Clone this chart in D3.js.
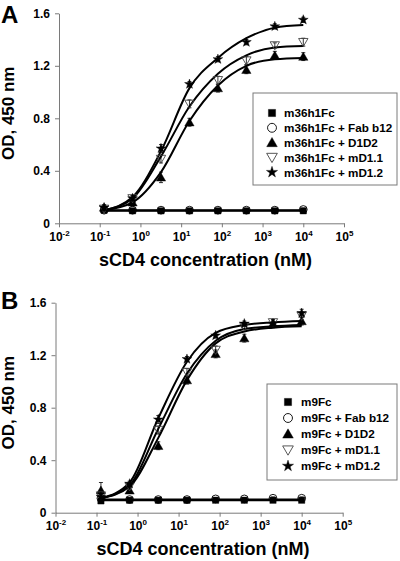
<!DOCTYPE html>
<html><head><meta charset="utf-8">
<script src="https://cdn.jsdelivr.net/npm/d3@7"></script>
<style>body{margin:0;background:#fff}svg{display:block}text{font-family:Arial,"Liberation Sans",sans-serif;font-weight:bold}</style>
</head><body>
<svg id="c" width="400" height="561"></svg>
<script>
// ---- data ----
const conc = [0.128, 0.64, 3.2, 16, 80, 400, 2000, 10000];
const yTicks = [0, 0.4, 0.8, 1.2, 1.6];
const xTickExps = [-2, -1, 0, 1, 2, 3, 4, 5];
const symbolsOrder = ["square", "circle", "triangle", "triangleDown", "star"];

const labelsA = ["m36h1Fc", "m36h1Fc + Fab b12", "m36h1Fc + D1D2", "m36h1Fc + mD1.1", "m36h1Fc + mD1.2"];
const pointsA_m36h1Fc = [0.10, 0.095, 0.095, 0.095, 0.095, 0.095, 0.095, 0.095];
const pointsA_Fab = [0.10, 0.10, 0.10, 0.10, 0.10, 0.10, 0.10, 0.105];
const pointsA_D1D2 = [0.12, 0.16, 0.35, 0.77, 1.03, 1.17, 1.28, 1.27];
const pointsA_mD11 = [0.11, 0.19, 0.49, 0.91, 1.09, 1.24, 1.355, 1.38];
const pointsA_mD12 = [0.12, 0.19, 0.57, 1.06, 1.25, 1.38, 1.50, 1.55];
const fitA_m36h1Fc = [0.095, 0.095, 0.095, 0.095, 0.095, 0.095, 0.095, 0.095];
const fitA_Fab = [0.10, 0.10, 0.10, 0.10, 0.10, 0.10, 0.10, 0.10];
const fitA_D1D2 = [0.10, 0.16, 0.39, 0.78, 1.05, 1.20, 1.25, 1.26];
const fitA_mD11 = [0.10, 0.19, 0.51, 0.89, 1.14, 1.28, 1.34, 1.35];
const fitA_mD12 = [0.10, 0.20, 0.55, 1.03, 1.26, 1.41, 1.49, 1.51];
const errA_D1D2 = [0.02, 0.03, 0.04, 0.03, 0.03, 0.03, 0.03, 0.03];
const errA_mD11 = [0.02, 0.02, 0.03, 0.03, 0.03, 0.03, 0.02, 0.03];
const errA_mD12 = [0.02, 0.02, 0.03, 0.02, 0.02, 0.02, 0.02, 0.02];
const errA_flat = [0.01, 0.01, 0.01, 0.01, 0.01, 0.01, 0.01, 0.01];

const labelsB = ["m9Fc", "m9Fc + Fab b12", "m9Fc + D1D2", "m9Fc + mD1.1", "m9Fc + mD1.2"];
const pointsB_m9Fc = [0.09, 0.095, 0.095, 0.095, 0.095, 0.095, 0.095, 0.095];
const pointsB_Fab = [0.11, 0.10, 0.10, 0.10, 0.105, 0.105, 0.11, 0.11];
const pointsB_D1D2 = [0.17, 0.17, 0.51, 1.01, 1.21, 1.33, 1.44, 1.46];
const pointsB_mD11 = [0.13, 0.20, 0.63, 1.07, 1.24, 1.42, 1.45, 1.50];
const pointsB_mD12 = [0.12, 0.22, 0.71, 1.17, 1.35, 1.44, 1.44, 1.52];
const fitB_m9Fc = [0.095, 0.095, 0.095, 0.095, 0.095, 0.095, 0.095, 0.095];
const fitB_Fab = [0.10, 0.10, 0.10, 0.10, 0.10, 0.10, 0.10, 0.10];
const fitB_D1D2 = [0.11, 0.20, 0.57, 1.01, 1.29, 1.38, 1.41, 1.42];
const fitB_mD11 = [0.11, 0.21, 0.64, 1.06, 1.31, 1.40, 1.42, 1.43];
const fitB_mD12 = [0.11, 0.23, 0.72, 1.15, 1.37, 1.43, 1.45, 1.46];
const errB_D1D2 = [0.06, 0.02, 0.03, 0.03, 0.03, 0.03, 0.03, 0.03];
const errB_mD11 = [0.03, 0.03, 0.03, 0.03, 0.03, 0.02, 0.02, 0.03];
const errB_mD12 = [0.02, 0.02, 0.03, 0.02, 0.02, 0.02, 0.02, 0.03];
const errB_flat = [0.01, 0.01, 0.01, 0.01, 0.01, 0.01, 0.01, 0.01];

const svg = d3.select("#c");
const AXIS = "#7a7a7a";
const FONT = "Arial, Liberation Sans, sans-serif";

function symPath(kind, size) {
  const t = {square: d3.symbolSquare, circle: d3.symbolCircle, triangle: d3.symbolTriangle,
             triangleDown: d3.symbolTriangle, star: d3.symbolStar}[kind];
  return d3.symbol().type(t).size(size)();
}
const sizes = {square: 40, circle: 48, triangle: 38, triangleDown: 38, star: 30};
const filled = {square: true, circle: false, triangle: true, triangleDown: false, star: true};

function drawSymbol(g, kind, x, y, sc) {
  const s = sizes[kind] * (sc || 1);
  const rot = kind === "triangleDown" ? 180 : 0;
  const dy = kind === "triangle" ? 1 : kind === "triangleDown" ? -1 : 0;
  g.append("path").attr("d", symPath(kind, s))
    .attr("transform", `translate(${x},${y + dy}) rotate(${rot})`)
    .attr("fill", filled[kind] ? "#000" : "none")
    .attr("stroke", filled[kind] ? "#000" : (kind === "triangleDown" ? "#444" : "#000"))
    .attr("stroke-width", filled[kind] ? 0.4 : 0.9);
}

function panel(cfg) {
  const x = d3.scaleLog().domain([0.01, 1e5]).range([cfg.x0, cfg.x1]);
  const y = d3.scaleLinear().domain([0, 1.6]).range([cfg.y0, cfg.y1]);
  const g = svg.append("g");

  // y axis
  const ya = g.append("g").attr("transform", `translate(${cfg.x0},0)`)
    .call(d3.axisLeft(y).tickValues(yTicks).tickSize(4).tickSizeOuter(0).tickPadding(5)
      .tickFormat(d => d === 0 ? "0" : d3.format(".1f")(d)));
  ya.selectAll("path,line").attr("stroke", AXIS);
  ya.selectAll("text").attr("font-size", 12).attr("font-family", FONT).attr("font-weight", "bold").attr("fill", "#000");

  // x axis
  const xa = g.append("g").attr("transform", `translate(0,${cfg.y0})`)
    .call(d3.axisBottom(x).tickValues(xTickExps.map(e => Math.pow(10, e))).tickSize(4).tickSizeOuter(0).tickPadding(5)
      .tickFormat(() => ""));
  xa.selectAll("path,line").attr("stroke", AXIS);
  xa.selectAll(".tick text").each(function(d, i) {
    const t = d3.select(this).attr("font-size", 12).attr("font-family", FONT).attr("font-weight", "bold").attr("fill", "#000");
    t.append("tspan").text("10");
    t.append("tspan").attr("font-size", 8).attr("dy", -5).text(String(xTickExps[i]));
  });

  // axis titles
  svg.append("text").attr("x", (cfg.x0 + cfg.x1) / 2 + 4).attr("y", cfg.y0 + 42.5)
    .attr("text-anchor", "middle").attr("font-size", 18).text("sCD4 concentration (nM)");
  svg.append("text").attr("transform", `translate(14,${(cfg.y0 + cfg.y1) / 2 - 5}) rotate(-90)`)
    .attr("text-anchor", "middle").attr("font-size", 17).text("OD, 450 nm");
  svg.append("text").attr("x", 1).attr("y", cfg.labelY).attr("font-size", 24).text(cfg.letter);

  // fitted curves
  const line = d3.line().x((d, i) => x(conc[i])).y(d => y(d)).curve(d3.curveMonotoneX);
  cfg.fits.forEach(f => {
    g.append("path").attr("d", line(f)).attr("fill", "none").attr("stroke", "#000").attr("stroke-width", 2);
  });

  // error bars + points
  cfg.points.forEach((pts, si) => {
    const kind = symbolsOrder[si];
    const err = cfg.errs[si];
    pts.forEach((v, i) => {
      const cx = x(conc[i]), lo = y(v - err[i]), hi = y(v + err[i]);
      g.append("line").attr("x1", cx).attr("x2", cx).attr("y1", lo).attr("y2", hi).attr("stroke", "#000").attr("stroke-width", 0.8);
      [lo, hi].forEach(yy => g.append("line").attr("x1", cx - 2).attr("x2", cx + 2).attr("y1", yy).attr("y2", yy).attr("stroke", "#000").attr("stroke-width", 0.8));
      drawSymbol(g, kind, cx, y(v));
    });
  });

  // legend
  const L = cfg.legend;
  svg.append("rect").attr("x", L.x).attr("y", L.y).attr("width", L.w).attr("height", L.h)
    .attr("fill", "#fff").attr("stroke", AXIS).attr("stroke-width", 1);
  cfg.labels.forEach((lab, i) => {
    const yy = L.first + i * L.step;
    drawSymbol(svg, symbolsOrder[i], L.sx, yy, 1.3);
    svg.append("text").attr("x", L.tx).attr("y", yy + 4.3).attr("font-size", 11.7).text(lab);
  });
}

panel({
  letter: "A", labelY: 23, x0: 59, x1: 344, y0: 223.3, y1: 13.3,
  fits: [fitA_m36h1Fc, fitA_Fab, fitA_D1D2, fitA_mD11, fitA_mD12],
  points: [pointsA_m36h1Fc, pointsA_Fab, pointsA_D1D2, pointsA_mD11, pointsA_mD12],
  errs: [errA_flat, errA_flat, errA_D1D2, errA_mD11, errA_mD12],
  labels: labelsA,
  legend: {x: 253, y: 93, w: 144, h: 92, sx: 272, tx: 284, first: 113, step: 14.8}
});
panel({
  letter: "B", labelY: 309, x0: 55.5, x1: 342.7, y0: 512.7, y1: 302.7,
  fits: [fitB_m9Fc, fitB_Fab, fitB_D1D2, fitB_mD11, fitB_mD12],
  points: [pointsB_m9Fc, pointsB_Fab, pointsB_D1D2, pointsB_mD11, pointsB_mD12],
  errs: [errB_flat, errB_flat, errB_D1D2, errB_mD11, errB_mD12],
  labels: labelsB,
  legend: {x: 267, y: 384, w: 130, h: 96, sx: 288, tx: 301, first: 402, step: 16}
});
</script>
</body></html>
